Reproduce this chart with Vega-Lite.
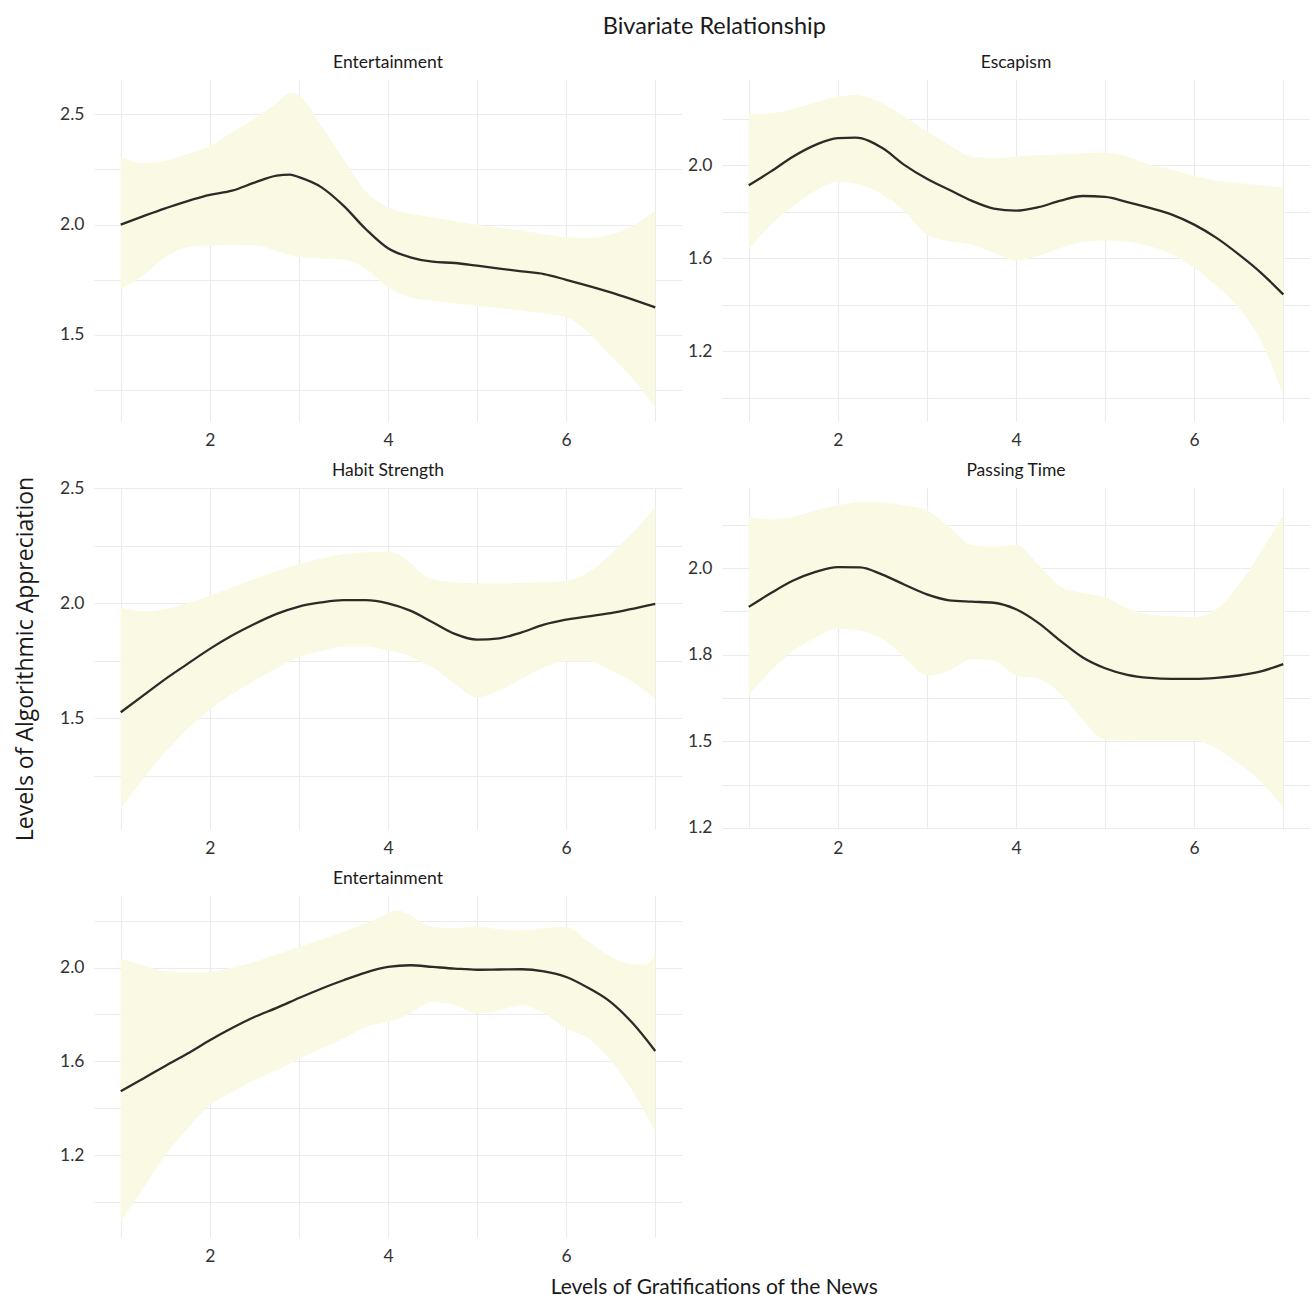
{
  "$schema": "https://vega.github.io/schema/vega-lite/v6.json",
  "padding": {"left": 14, "top": 15, "right": 0, "bottom": 0},
  "background": "white",
  "title": {"text": "Bivariate Relationship", "font": "Lato", "fontSize": 23.5, "fontWeight": "normal", "color": "#1a1a1a", "anchor": "middle", "offset": 15, "dx": 52},
  "datasets": {
    "fit": [
      {"panel": 1, "x": 1, "fit": 2.0}, {"panel": 1, "x": 1.5, "fit": 2.074}, {"panel": 1, "x": 2, "fit": 2.135}, {"panel": 1, "x": 2.25, "fit": 2.154}, {"panel": 1, "x": 2.5, "fit": 2.19}, {"panel": 1, "x": 2.75, "fit": 2.222}, {"panel": 1, "x": 2.9, "fit": 2.227}, {"panel": 1, "x": 3, "fit": 2.215}, {"panel": 1, "x": 3.25, "fit": 2.17}, {"panel": 1, "x": 3.5, "fit": 2.086}, {"panel": 1, "x": 3.75, "fit": 1.98}, {"panel": 1, "x": 4, "fit": 1.893}, {"panel": 1, "x": 4.25, "fit": 1.852}, {"panel": 1, "x": 4.5, "fit": 1.832}, {"panel": 1, "x": 4.75, "fit": 1.826}, {"panel": 1, "x": 5, "fit": 1.814}, {"panel": 1, "x": 5.5, "fit": 1.788}, {"panel": 1, "x": 5.75, "fit": 1.776}, {"panel": 1, "x": 6, "fit": 1.75}, {"panel": 1, "x": 6.5, "fit": 1.693}, {"panel": 1, "x": 7, "fit": 1.625},
      {"panel": 2, "x": 1, "fit": 1.913}, {"panel": 2, "x": 1.25, "fit": 1.973}, {"panel": 2, "x": 1.5, "fit": 2.037}, {"panel": 2, "x": 1.75, "fit": 2.087}, {"panel": 2, "x": 2, "fit": 2.116}, {"panel": 2, "x": 2.2, "fit": 2.118}, {"panel": 2, "x": 2.5, "fit": 2.073}, {"panel": 2, "x": 2.75, "fit": 2.0}, {"panel": 2, "x": 3, "fit": 1.941}, {"panel": 2, "x": 3.25, "fit": 1.894}, {"panel": 2, "x": 3.5, "fit": 1.847}, {"panel": 2, "x": 3.75, "fit": 1.813}, {"panel": 2, "x": 4, "fit": 1.804}, {"panel": 2, "x": 4.25, "fit": 1.819}, {"panel": 2, "x": 4.5, "fit": 1.847}, {"panel": 2, "x": 4.75, "fit": 1.867}, {"panel": 2, "x": 5, "fit": 1.863}, {"panel": 2, "x": 5.25, "fit": 1.841}, {"panel": 2, "x": 5.5, "fit": 1.816}, {"panel": 2, "x": 5.75, "fit": 1.787}, {"panel": 2, "x": 6, "fit": 1.744}, {"panel": 2, "x": 6.25, "fit": 1.687}, {"panel": 2, "x": 6.5, "fit": 1.616}, {"panel": 2, "x": 6.75, "fit": 1.537}, {"panel": 2, "x": 7, "fit": 1.444},
      {"panel": 3, "x": 1, "fit": 1.527}, {"panel": 3, "x": 1.25, "fit": 1.599}, {"panel": 3, "x": 1.5, "fit": 1.671}, {"panel": 3, "x": 1.75, "fit": 1.737}, {"panel": 3, "x": 2, "fit": 1.802}, {"panel": 3, "x": 2.25, "fit": 1.86}, {"panel": 3, "x": 2.5, "fit": 1.91}, {"panel": 3, "x": 2.75, "fit": 1.954}, {"panel": 3, "x": 3, "fit": 1.986}, {"panel": 3, "x": 3.25, "fit": 2.004}, {"panel": 3, "x": 3.5, "fit": 2.014}, {"panel": 3, "x": 3.75, "fit": 2.014}, {"panel": 3, "x": 4, "fit": 2.0}, {"panel": 3, "x": 4.25, "fit": 1.968}, {"panel": 3, "x": 4.5, "fit": 1.918}, {"panel": 3, "x": 4.75, "fit": 1.867}, {"panel": 3, "x": 5, "fit": 1.842}, {"panel": 3, "x": 5.25, "fit": 1.848}, {"panel": 3, "x": 5.5, "fit": 1.874}, {"panel": 3, "x": 5.75, "fit": 1.907}, {"panel": 3, "x": 6, "fit": 1.929}, {"panel": 3, "x": 6.5, "fit": 1.957}, {"panel": 3, "x": 7, "fit": 1.997},
      {"panel": 4, "x": 1, "fit": 1.888}, {"panel": 4, "x": 1.25, "fit": 1.928}, {"panel": 4, "x": 1.5, "fit": 1.964}, {"panel": 4, "x": 1.75, "fit": 1.989}, {"panel": 4, "x": 2, "fit": 2.003}, {"panel": 4, "x": 2.25, "fit": 2.002}, {"panel": 4, "x": 2.5, "fit": 1.981}, {"panel": 4, "x": 2.75, "fit": 1.952}, {"panel": 4, "x": 3, "fit": 1.924}, {"panel": 4, "x": 3.25, "fit": 1.907}, {"panel": 4, "x": 3.5, "fit": 1.903}, {"panel": 4, "x": 3.75, "fit": 1.9}, {"panel": 4, "x": 4, "fit": 1.881}, {"panel": 4, "x": 4.25, "fit": 1.842}, {"panel": 4, "x": 4.5, "fit": 1.79}, {"panel": 4, "x": 4.75, "fit": 1.742}, {"panel": 4, "x": 5, "fit": 1.711}, {"panel": 4, "x": 5.25, "fit": 1.692}, {"panel": 4, "x": 5.5, "fit": 1.683}, {"panel": 4, "x": 5.75, "fit": 1.68}, {"panel": 4, "x": 6, "fit": 1.68}, {"panel": 4, "x": 6.25, "fit": 1.683}, {"panel": 4, "x": 6.5, "fit": 1.69}, {"panel": 4, "x": 6.75, "fit": 1.702}, {"panel": 4, "x": 7, "fit": 1.723},
      {"panel": 5, "x": 1, "fit": 1.472}, {"panel": 5, "x": 1.25, "fit": 1.526}, {"panel": 5, "x": 1.5, "fit": 1.58}, {"panel": 5, "x": 1.75, "fit": 1.633}, {"panel": 5, "x": 2, "fit": 1.69}, {"panel": 5, "x": 2.25, "fit": 1.742}, {"panel": 5, "x": 2.5, "fit": 1.789}, {"panel": 5, "x": 2.75, "fit": 1.828}, {"panel": 5, "x": 3, "fit": 1.87}, {"panel": 5, "x": 3.25, "fit": 1.91}, {"panel": 5, "x": 3.5, "fit": 1.946}, {"panel": 5, "x": 3.75, "fit": 1.979}, {"panel": 5, "x": 4, "fit": 2.003}, {"panel": 5, "x": 4.25, "fit": 2.01}, {"panel": 5, "x": 4.5, "fit": 2.003}, {"panel": 5, "x": 4.75, "fit": 1.996}, {"panel": 5, "x": 5, "fit": 1.991}, {"panel": 5, "x": 5.25, "fit": 1.992}, {"panel": 5, "x": 5.5, "fit": 1.993}, {"panel": 5, "x": 5.75, "fit": 1.984}, {"panel": 5, "x": 6, "fit": 1.96}, {"panel": 5, "x": 6.25, "fit": 1.913}, {"panel": 5, "x": 6.5, "fit": 1.853}, {"panel": 5, "x": 6.75, "fit": 1.761}, {"panel": 5, "x": 7, "fit": 1.644}
    ],
    "band": [
      {"panel": 1, "x": 1, "lo": 1.708, "hi": 2.306}, {"panel": 1, "x": 1.25, "lo": 1.769, "hi": 2.28}, {"panel": 1, "x": 1.5, "lo": 1.852, "hi": 2.29}, {"panel": 1, "x": 1.75, "lo": 1.897, "hi": 2.32}, {"panel": 1, "x": 2, "lo": 1.905, "hi": 2.356}, {"panel": 1, "x": 2.25, "lo": 1.907, "hi": 2.42}, {"panel": 1, "x": 2.5, "lo": 1.905, "hi": 2.48}, {"panel": 1, "x": 2.75, "lo": 1.882, "hi": 2.55}, {"panel": 1, "x": 2.9, "lo": 1.862, "hi": 2.596}, {"panel": 1, "x": 3, "lo": 1.852, "hi": 2.585}, {"panel": 1, "x": 3.25, "lo": 1.847, "hi": 2.45}, {"panel": 1, "x": 3.5, "lo": 1.842, "hi": 2.298}, {"panel": 1, "x": 3.75, "lo": 1.8, "hi": 2.15}, {"panel": 1, "x": 4, "lo": 1.716, "hi": 2.079}, {"panel": 1, "x": 4.25, "lo": 1.67, "hi": 2.05}, {"panel": 1, "x": 4.5, "lo": 1.655, "hi": 2.033}, {"panel": 1, "x": 5, "lo": 1.632, "hi": 2.0}, {"panel": 1, "x": 5.5, "lo": 1.61, "hi": 1.973}, {"panel": 1, "x": 6, "lo": 1.579, "hi": 1.943}, {"panel": 1, "x": 6.25, "lo": 1.51, "hi": 1.94}, {"panel": 1, "x": 6.5, "lo": 1.405, "hi": 1.955}, {"panel": 1, "x": 6.75, "lo": 1.3, "hi": 1.995}, {"panel": 1, "x": 7, "lo": 1.171, "hi": 2.064},
      {"panel": 2, "x": 1, "lo": 1.637, "hi": 2.219}, {"panel": 2, "x": 1.25, "lo": 1.744, "hi": 2.223}, {"panel": 2, "x": 1.5, "lo": 1.823, "hi": 2.241}, {"panel": 2, "x": 1.75, "lo": 1.89, "hi": 2.27}, {"panel": 2, "x": 2, "lo": 1.926, "hi": 2.294}, {"panel": 2, "x": 2.2, "lo": 1.92, "hi": 2.301}, {"panel": 2, "x": 2.5, "lo": 1.873, "hi": 2.266}, {"panel": 2, "x": 2.75, "lo": 1.801, "hi": 2.209}, {"panel": 2, "x": 3, "lo": 1.701, "hi": 2.144}, {"panel": 2, "x": 3.25, "lo": 1.673, "hi": 2.087}, {"panel": 2, "x": 3.5, "lo": 1.659, "hi": 2.037}, {"panel": 2, "x": 3.75, "lo": 1.623, "hi": 2.03}, {"panel": 2, "x": 4, "lo": 1.59, "hi": 2.037}, {"panel": 2, "x": 4.25, "lo": 1.609, "hi": 2.042}, {"panel": 2, "x": 4.5, "lo": 1.644, "hi": 2.047}, {"panel": 2, "x": 4.75, "lo": 1.669, "hi": 2.051}, {"panel": 2, "x": 5, "lo": 1.676, "hi": 2.054}, {"panel": 2, "x": 5.25, "lo": 1.67, "hi": 2.037}, {"panel": 2, "x": 5.5, "lo": 1.651, "hi": 2.001}, {"panel": 2, "x": 5.75, "lo": 1.616, "hi": 1.98}, {"panel": 2, "x": 6, "lo": 1.559, "hi": 1.954}, {"panel": 2, "x": 6.25, "lo": 1.48, "hi": 1.933}, {"panel": 2, "x": 6.5, "lo": 1.387, "hi": 1.923}, {"panel": 2, "x": 6.75, "lo": 1.244, "hi": 1.913}, {"panel": 2, "x": 7, "lo": 1.009, "hi": 1.904},
      {"panel": 3, "x": 1, "lo": 1.107, "hi": 1.983}, {"panel": 3, "x": 1.25, "lo": 1.237, "hi": 1.965}, {"panel": 3, "x": 1.5, "lo": 1.353, "hi": 1.975}, {"panel": 3, "x": 1.75, "lo": 1.454, "hi": 2.0}, {"panel": 3, "x": 2, "lo": 1.538, "hi": 2.033}, {"panel": 3, "x": 2.25, "lo": 1.606, "hi": 2.07}, {"panel": 3, "x": 2.5, "lo": 1.664, "hi": 2.106}, {"panel": 3, "x": 2.75, "lo": 1.718, "hi": 2.14}, {"panel": 3, "x": 3, "lo": 1.766, "hi": 2.171}, {"panel": 3, "x": 3.25, "lo": 1.792, "hi": 2.195}, {"panel": 3, "x": 3.5, "lo": 1.812, "hi": 2.214}, {"panel": 3, "x": 3.75, "lo": 1.812, "hi": 2.222}, {"panel": 3, "x": 4, "lo": 1.795, "hi": 2.226}, {"panel": 3, "x": 4.2, "lo": 1.777, "hi": 2.192}, {"panel": 3, "x": 4.4, "lo": 1.74, "hi": 2.123}, {"panel": 3, "x": 4.5, "lo": 1.722, "hi": 2.105}, {"panel": 3, "x": 4.75, "lo": 1.65, "hi": 2.091}, {"panel": 3, "x": 5, "lo": 1.592, "hi": 2.087}, {"panel": 3, "x": 5.25, "lo": 1.621, "hi": 2.087}, {"panel": 3, "x": 5.5, "lo": 1.671, "hi": 2.088}, {"panel": 3, "x": 5.75, "lo": 1.722, "hi": 2.092}, {"panel": 3, "x": 6, "lo": 1.748, "hi": 2.098}, {"panel": 3, "x": 6.25, "lo": 1.747, "hi": 2.135}, {"panel": 3, "x": 6.5, "lo": 1.708, "hi": 2.214}, {"panel": 3, "x": 6.75, "lo": 1.657, "hi": 2.308}, {"panel": 3, "x": 7, "lo": 1.585, "hi": 2.417},
      {"panel": 4, "x": 1, "lo": 1.632, "hi": 2.148}, {"panel": 4, "x": 1.25, "lo": 1.704, "hi": 2.141}, {"panel": 4, "x": 1.5, "lo": 1.761, "hi": 2.148}, {"panel": 4, "x": 1.75, "lo": 1.799, "hi": 2.167}, {"panel": 4, "x": 2, "lo": 1.825, "hi": 2.181}, {"panel": 4, "x": 2.25, "lo": 1.819, "hi": 2.191}, {"panel": 4, "x": 2.5, "lo": 1.795, "hi": 2.189}, {"panel": 4, "x": 2.75, "lo": 1.742, "hi": 2.181}, {"panel": 4, "x": 3, "lo": 1.69, "hi": 2.167}, {"panel": 4, "x": 3.25, "lo": 1.704, "hi": 2.119}, {"panel": 4, "x": 3.5, "lo": 1.737, "hi": 2.067}, {"panel": 4, "x": 3.75, "lo": 1.733, "hi": 2.062}, {"panel": 4, "x": 4, "lo": 1.69, "hi": 2.067}, {"panel": 4, "x": 4.25, "lo": 1.68, "hi": 2.01}, {"panel": 4, "x": 4.5, "lo": 1.637, "hi": 1.947}, {"panel": 4, "x": 4.75, "lo": 1.561, "hi": 1.928}, {"panel": 4, "x": 5, "lo": 1.505, "hi": 1.916}, {"panel": 4, "x": 5.25, "lo": 1.504, "hi": 1.885}, {"panel": 4, "x": 5.5, "lo": 1.503, "hi": 1.866}, {"panel": 4, "x": 5.75, "lo": 1.503, "hi": 1.862}, {"panel": 4, "x": 6, "lo": 1.503, "hi": 1.859}, {"panel": 4, "x": 6.25, "lo": 1.479, "hi": 1.881}, {"panel": 4, "x": 6.5, "lo": 1.436, "hi": 1.952}, {"panel": 4, "x": 6.75, "lo": 1.384, "hi": 2.048}, {"panel": 4, "x": 7, "lo": 1.308, "hi": 2.153},
      {"panel": 5, "x": 1, "lo": 0.914, "hi": 2.038}, {"panel": 5, "x": 1.25, "lo": 1.056, "hi": 2.01}, {"panel": 5, "x": 1.5, "lo": 1.199, "hi": 1.984}, {"panel": 5, "x": 1.75, "lo": 1.312, "hi": 1.979}, {"panel": 5, "x": 2, "lo": 1.412, "hi": 1.981}, {"panel": 5, "x": 2.25, "lo": 1.469, "hi": 2.0}, {"panel": 5, "x": 2.5, "lo": 1.519, "hi": 2.024}, {"panel": 5, "x": 2.75, "lo": 1.562, "hi": 2.056}, {"panel": 5, "x": 3, "lo": 1.611, "hi": 2.088}, {"panel": 5, "x": 3.25, "lo": 1.654, "hi": 2.12}, {"panel": 5, "x": 3.5, "lo": 1.697, "hi": 2.152}, {"panel": 5, "x": 3.75, "lo": 1.747, "hi": 2.19}, {"panel": 5, "x": 4, "lo": 1.768, "hi": 2.231}, {"panel": 5, "x": 4.1, "lo": 1.78, "hi": 2.245}, {"panel": 5, "x": 4.25, "lo": 1.804, "hi": 2.224}, {"panel": 5, "x": 4.5, "lo": 1.853, "hi": 2.174}, {"panel": 5, "x": 4.75, "lo": 1.839, "hi": 2.169}, {"panel": 5, "x": 5, "lo": 1.804, "hi": 2.177}, {"panel": 5, "x": 5.25, "lo": 1.818, "hi": 2.164}, {"panel": 5, "x": 5.5, "lo": 1.839, "hi": 2.159}, {"panel": 5, "x": 5.75, "lo": 1.804, "hi": 2.169}, {"panel": 5, "x": 6, "lo": 1.74, "hi": 2.174}, {"panel": 5, "x": 6.25, "lo": 1.697, "hi": 2.11}, {"panel": 5, "x": 6.5, "lo": 1.604, "hi": 2.046}, {"panel": 5, "x": 6.75, "lo": 1.469, "hi": 2.014}, {"panel": 5, "x": 6.9, "lo": 1.37, "hi": 2.013}, {"panel": 5, "x": 7, "lo": 1.298, "hi": 2.06}
    ]
  },
  "vconcat": [
    {
      "title": {"text": "Levels of Gratifications of the News", "orient": "bottom", "font": "Lato", "fontSize": 21, "fontWeight": "normal", "color": "#1a1a1a", "anchor": "middle", "offset": 12, "dx": 52},
      "vconcat": [
        {
          "title": {"text": "Levels of Algorithmic Appreciation", "orient": "left", "font": "Open Sans", "fontSize": 23, "fontWeight": "normal", "color": "#1a1a1a", "anchor": "middle", "offset": 22},
          "columns": 2,
          "spacing": {"row": 12, "column": 5},
          "concat": [
            {
              "title": {"text": "Entertainment"},
              "width": 588, "height": 342,
              "layer": [
                {
                  "data": {"name": "band"},
                  "transform": [{"filter": "datum.panel == 1"}],
                  "mark": {"type": "area", "interpolate": "monotone", "color": "#FAFAE4"},
                  "encoding": {
                    "x": {"field": "x", "type": "quantitative", "scale": {"domain": [0.7, 7.3], "nice": false, "zero": false}, "axis": {"values": [1, 2, 3, 4, 5, 6, 7], "labelExpr": "datum.value % 2 == 0 ? format(datum.value, 'd') : ''"}, "title": null},
                    "y": {"field": "lo", "type": "quantitative", "scale": {"domain": [1.11, 2.66], "nice": false, "zero": false}, "axis": {"values": [1.25, 1.5, 1.75, 2, 2.25, 2.5], "labelExpr": "(datum.value == 1.5 || datum.value == 2 || datum.value == 2.5) ? format(datum.value, '.1f') : ''"}, "title": null},
                    "y2": {"field": "hi"}
                  }
                },
                {
                  "data": {"name": "fit"},
                  "transform": [{"filter": "datum.panel == 1"}],
                  "mark": {"type": "line", "interpolate": "monotone", "color": "#2B2B27", "strokeWidth": 2.3},
                  "encoding": {
                    "x": {"field": "x", "type": "quantitative"},
                    "y": {"field": "fit", "type": "quantitative"}
                  }
                }
              ]
            },
            {
              "title": {"text": "Escapism"},
              "width": 588, "height": 342,
              "layer": [
                {
                  "data": {"name": "band"},
                  "transform": [{"filter": "datum.panel == 2"}],
                  "mark": {"type": "area", "interpolate": "monotone", "color": "#FAFAE4"},
                  "encoding": {
                    "x": {"field": "x", "type": "quantitative", "scale": {"domain": [0.7, 7.3], "nice": false, "zero": false}, "axis": {"values": [1, 2, 3, 4, 5, 6, 7], "labelExpr": "datum.value % 2 == 0 ? format(datum.value, 'd') : ''"}, "title": null},
                    "y": {"field": "lo", "type": "quantitative", "scale": {"domain": [0.9, 2.37], "nice": false, "zero": false}, "axis": {"values": [1.0, 1.2, 1.4, 1.6, 1.8, 2.0, 2.2], "labelExpr": "(datum.value == 1.2 || datum.value == 1.6 || datum.value == 2) ? format(datum.value, '.1f') : ''"}, "title": null},
                    "y2": {"field": "hi"}
                  }
                },
                {
                  "data": {"name": "fit"},
                  "transform": [{"filter": "datum.panel == 2"}],
                  "mark": {"type": "line", "interpolate": "monotone", "color": "#2B2B27", "strokeWidth": 2.3},
                  "encoding": {
                    "x": {"field": "x", "type": "quantitative"},
                    "y": {"field": "fit", "type": "quantitative"}
                  }
                }
              ]
            },
            {
              "title": {"text": "Habit Strength", "offset": 0},
              "width": 588, "height": 342,
              "layer": [
                {
                  "data": {"name": "band"},
                  "transform": [{"filter": "datum.panel == 3"}],
                  "mark": {"type": "area", "interpolate": "monotone", "color": "#FAFAE4"},
                  "encoding": {
                    "x": {"field": "x", "type": "quantitative", "scale": {"domain": [0.7, 7.3], "nice": false, "zero": false}, "axis": {"values": [1, 2, 3, 4, 5, 6, 7], "labelExpr": "datum.value % 2 == 0 ? format(datum.value, 'd') : ''"}, "title": null},
                    "y": {"field": "lo", "type": "quantitative", "scale": {"domain": [1.02, 2.505], "nice": false, "zero": false}, "axis": {"values": [1.25, 1.5, 1.75, 2, 2.25, 2.5], "labelExpr": "(datum.value == 1.5 || datum.value == 2 || datum.value == 2.5) ? format(datum.value, '.1f') : ''"}, "title": null},
                    "y2": {"field": "hi"}
                  }
                },
                {
                  "data": {"name": "fit"},
                  "transform": [{"filter": "datum.panel == 3"}],
                  "mark": {"type": "line", "interpolate": "monotone", "color": "#2B2B27", "strokeWidth": 2.3},
                  "encoding": {
                    "x": {"field": "x", "type": "quantitative"},
                    "y": {"field": "fit", "type": "quantitative"}
                  }
                }
              ]
            },
            {
              "title": {"text": "Passing Time"},
              "width": 588, "height": 342,
              "layer": [
                {
                  "data": {"name": "band"},
                  "transform": [{"filter": "datum.panel == 4"}],
                  "mark": {"type": "area", "interpolate": "monotone", "color": "#FAFAE4"},
                  "encoding": {
                    "x": {"field": "x", "type": "quantitative", "scale": {"domain": [0.7, 7.3], "nice": false, "zero": false}, "axis": {"values": [1, 2, 3, 4, 5, 6, 7], "labelExpr": "datum.value % 2 == 0 ? format(datum.value, 'd') : ''"}, "title": null},
                    "y": {"field": "lo", "type": "quantitative", "scale": {"domain": [1.247, 2.234], "nice": false, "zero": false}, "axis": {"values": [1.25, 1.375, 1.5, 1.625, 1.75, 1.875, 2, 2.125], "labelExpr": "datum.value == 1.25 ? '1.2' : datum.value == 1.5 ? '1.5' : datum.value == 1.75 ? '1.8' : datum.value == 2 ? '2.0' : ''"}, "title": null},
                    "y2": {"field": "hi"}
                  }
                },
                {
                  "data": {"name": "fit"},
                  "transform": [{"filter": "datum.panel == 4"}],
                  "mark": {"type": "line", "interpolate": "monotone", "color": "#2B2B27", "strokeWidth": 2.3},
                  "encoding": {
                    "x": {"field": "x", "type": "quantitative"},
                    "y": {"field": "fit", "type": "quantitative"}
                  }
                }
              ]
            },
            {
              "title": {"text": "Entertainment"},
              "width": 588, "height": 342,
              "layer": [
                {
                  "data": {"name": "band"},
                  "transform": [{"filter": "datum.panel == 5"}],
                  "mark": {"type": "area", "interpolate": "monotone", "color": "#FAFAE4"},
                  "encoding": {
                    "x": {"field": "x", "type": "quantitative", "scale": {"domain": [0.7, 7.3], "nice": false, "zero": false}, "axis": {"values": [1, 2, 3, 4, 5, 6, 7], "labelExpr": "datum.value % 2 == 0 ? format(datum.value, 'd') : ''"}, "title": null},
                    "y": {"field": "lo", "type": "quantitative", "scale": {"domain": [0.85, 2.31], "nice": false, "zero": false}, "axis": {"values": [1.0, 1.2, 1.4, 1.6, 1.8, 2.0, 2.2], "labelExpr": "(datum.value == 1.2 || datum.value == 1.6 || datum.value == 2) ? format(datum.value, '.1f') : ''"}, "title": null},
                    "y2": {"field": "hi"}
                  }
                },
                {
                  "data": {"name": "fit"},
                  "transform": [{"filter": "datum.panel == 5"}],
                  "mark": {"type": "line", "interpolate": "monotone", "color": "#2B2B27", "strokeWidth": 2.3},
                  "encoding": {
                    "x": {"field": "x", "type": "quantitative"},
                    "y": {"field": "fit", "type": "quantitative"}
                  }
                }
              ]
            }
          ]
        }
      ]
    }
  ],
  "config": {
    "view": {"stroke": null},
    "axis": {"domain": false, "ticks": false, "tickSize": 0, "gridColor": "#EBEBEB", "gridWidth": 1.1, "labelFont": "Lato", "labelFontSize": 17.5, "labelColor": "#333333", "labelPadding": 10, "labelOverlap": false, "labelFlush": false},
    "title": {"font": "Lato", "fontSize": 17.5, "fontWeight": "normal", "color": "#1a1a1a", "offset": 8}
  }
}
